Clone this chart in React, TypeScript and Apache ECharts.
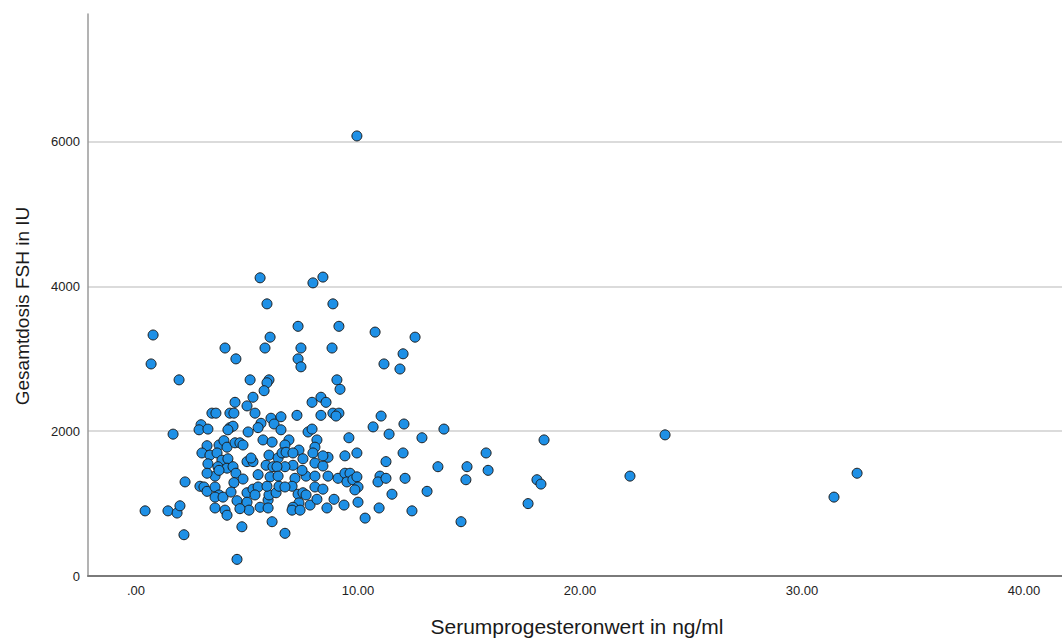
import React, { useEffect, useRef } from "react";
import * as echarts from "echarts";

const progesterone = [
  9.95, 5.59, 8.42, 7.97, 5.9, 8.87, 0.77, 4.01, 0.68, 1.94, 4.5, 7.3, 9.14, 6.04, 7.43, 5.81, 7.3, 7.43, 8.83, 10.77,
  12.57, 11.17, 11.89, 12.03, 5.99, 5.14, 5.9, 5.77, 5.27, 9.05, 9.19, 4.46, 5.0, 5.36, 3.42, 3.6, 4.23, 4.41, 6.08, 6.53,
  7.25, 8.33, 7.93, 8.56, 8.33, 8.87, 9.14, 9.01, 11.04, 2.93, 2.84, 3.24, 4.23, 4.37, 4.14, 5.05, 5.63, 5.5, 6.22, 6.53,
  1.67, 7.75, 7.93, 10.68, 12.07, 13.87, 9.59, 11.4, 12.88, 3.2, 3.74, 3.96, 4.1, 4.46, 4.68, 4.82, 5.72, 6.13, 6.89, 6.71,
  7.34, 8.15, 8.06, 2.97, 3.33, 7.97, 8.65, 3.65, 3.87, 4.14, 3.24, 3.69, 4.1, 4.37, 4.5, 5.0, 5.27, 5.18, 5.86, 6.17,
  5.99, 6.4, 6.58, 6.76, 7.07, 7.52, 7.07, 6.71, 6.35, 6.04, 6.4, 5.5, 4.82, 4.41, 3.56, 3.74, 3.2, 8.06, 8.42, 7.66,
  8.06, 8.65, 7.16, 7.03, 2.21, 2.88, 3.06, 3.2, 3.56, 3.74, 3.56, 3.92, 4.28, 5.0, 5.27, 5.5, 5.36, 4.55, 5.0, 5.09,
  4.68, 5.59, 5.95, 5.99, 5.9, 6.31, 6.44, 6.71, 7.3, 7.52, 7.66, 7.34, 7.07, 7.03, 7.39, 7.84, 8.15, 8.06, 8.42, 3.56,
  4.01, 4.1, 5.95, 0.41, 1.44, 1.85, 1.98, 4.77, 6.13, 6.71, 2.16, 4.55, 9.95, 9.41, 8.42, 11.26, 12.03, 15.77, 13.6, 14.91,
  15.86, 14.86, 7.48, 9.1, 9.41, 9.64, 9.5, 9.77, 9.95, 10.0, 9.86, 10.99, 10.9, 11.26, 12.12, 11.53, 13.11, 8.92, 8.6, 9.37,
  10.0, 10.95, 12.43, 10.32, 14.64, 18.38, 18.06, 18.24, 17.66, 22.25, 23.83, 31.44, 32.48,
];

const fshDose = [
  6080, 4120, 4130, 4050, 3760, 3760, 3330, 3150, 2930, 2710, 3000, 3450, 3450, 3300, 3150, 3150, 3000, 2890, 3150, 3370,
  3300, 2930, 2860, 3070, 2710, 2710, 2670, 2560, 2470, 2710, 2580, 2400, 2350, 2250, 2250, 2250, 2250, 2250, 2180, 2200,
  2220, 2470, 2400, 2400, 2220, 2250, 2250, 2210, 2210, 2090, 2020, 2030, 2050, 2070, 2020, 1990, 2110, 2050, 2100, 2020,
  1960, 1990, 2030, 2060, 2100, 2030, 1910, 1960, 1910, 1800, 1810, 1870, 1780, 1840, 1840, 1810, 1880, 1850, 1880, 1810,
  1740, 1880, 1780, 1700, 1670, 1700, 1640, 1700, 1600, 1620, 1550, 1510, 1490, 1510, 1420, 1580, 1580, 1630, 1530, 1510,
  1670, 1630, 1700, 1710, 1700, 1620, 1530, 1510, 1510, 1370, 1380, 1400, 1340, 1290, 1380, 1460, 1420, 1560, 1520, 1380,
  1380, 1380, 1350, 1240, 1300, 1240, 1230, 1170, 1230, 1120, 1090, 1090, 1160, 1150, 1200, 1230, 1120, 1040, 1020, 910,
  930, 950, 1050, 1120, 1240, 1150, 1240, 1230, 1130, 1150, 1120, 1010, 950, 910, 910, 980, 1060, 1230, 1200, 940,
  910, 840, 940, 900, 900, 870, 970, 680, 750, 590, 570, 230, 1700, 1660, 1660, 1580, 1700, 1700, 1510, 1510,
  1460, 1330, 1460, 1350, 1420, 1420, 1300, 1330, 1370, 1230, 1190, 1380, 1300, 1350, 1350, 1130, 1170, 1060, 940, 980,
  1020, 940, 900, 800, 750, 1880, 1330, 1270, 1000, 1380, 1950, 1090, 1420,
];

const xTickValues = [0, 10, 20, 30, 40];
const yTickValues = [0, 2000, 4000, 6000];
const xTitle = "Serumprogesteronwert in ng/ml";
const yTitle = "Gesamtdosis FSH in IU";

const FONT = "'Liberation Sans', Arial, sans-serif";

export default function App() {
  const ref = useRef<HTMLDivElement>(null);

  useEffect(() => {
    if (!ref.current) return;
    const chart = echarts.init(ref.current, undefined, { renderer: "svg" });
    const points = progesterone.map((x, i) => [x, fshDose[i]]);
    chart.setOption({
      animation: false,
      backgroundColor: "#ffffff",
      grid: { left: 88, right: 0, top: 14, bottom: 63, containLabel: false },
      xAxis: {
        type: "value",
        min: -2.162,
        max: 41.71,
        axisLine: { show: true, onZero: false, lineStyle: { color: "#7a7a7a", width: 2 } },
        axisTick: { show: false },
        splitLine: { show: false },
        axisLabel: {
          customValues: xTickValues,
          margin: 8,
          color: "#222",
          fontSize: 13,
          fontFamily: FONT,
          formatter: (v: number) => (v === 0 ? ".00" : v.toFixed(2)),
        },
      },
      yAxis: {
        type: "value",
        min: 0,
        max: 7765,
        interval: 2000,
        axisLine: { show: true, onZero: false, lineStyle: { color: "#9a9a9a", width: 1.5 } },
        axisTick: { show: false },
        splitLine: {
          show: true,
          showMinLine: false,
          showMaxLine: false,
          lineStyle: { color: "#cfcfcf", width: 1.5 },
        },
        axisLabel: {
          customValues: yTickValues,
          margin: 8,
          color: "#222",
          fontSize: 13,
          fontFamily: FONT,
          formatter: (v: number) => String(Math.round(v)),
        },
      },
      graphic: [
        {
          type: "text",
          x: 577,
          y: 626,
          style: {
            text: xTitle,
            fontSize: 21,
            fontFamily: FONT,
            fill: "#1a1a1a",
            textAlign: "center",
            textVerticalAlign: "middle",
          },
        },
        {
          type: "text",
          x: 22,
          y: 306,
          rotation: Math.PI / 2,
          style: {
            text: yTitle,
            fontSize: 19,
            fontFamily: FONT,
            fill: "#1a1a1a",
            textAlign: "center",
            textVerticalAlign: "middle",
          },
        },
      ],
      series: [
        {
          type: "scatter",
          data: points,
          symbol: "circle",
          symbolSize: 10,
          itemStyle: { color: "#1E90E6", borderColor: "#1c1c1c", borderWidth: 1, opacity: 1 },
        },
      ],
    });
    return () => chart.dispose();
  }, []);

  return (
    <div
      ref={ref}
      style={{ position: "fixed", left: 0, top: 0, width: 1062, height: 639 }}
    />
  );
}
